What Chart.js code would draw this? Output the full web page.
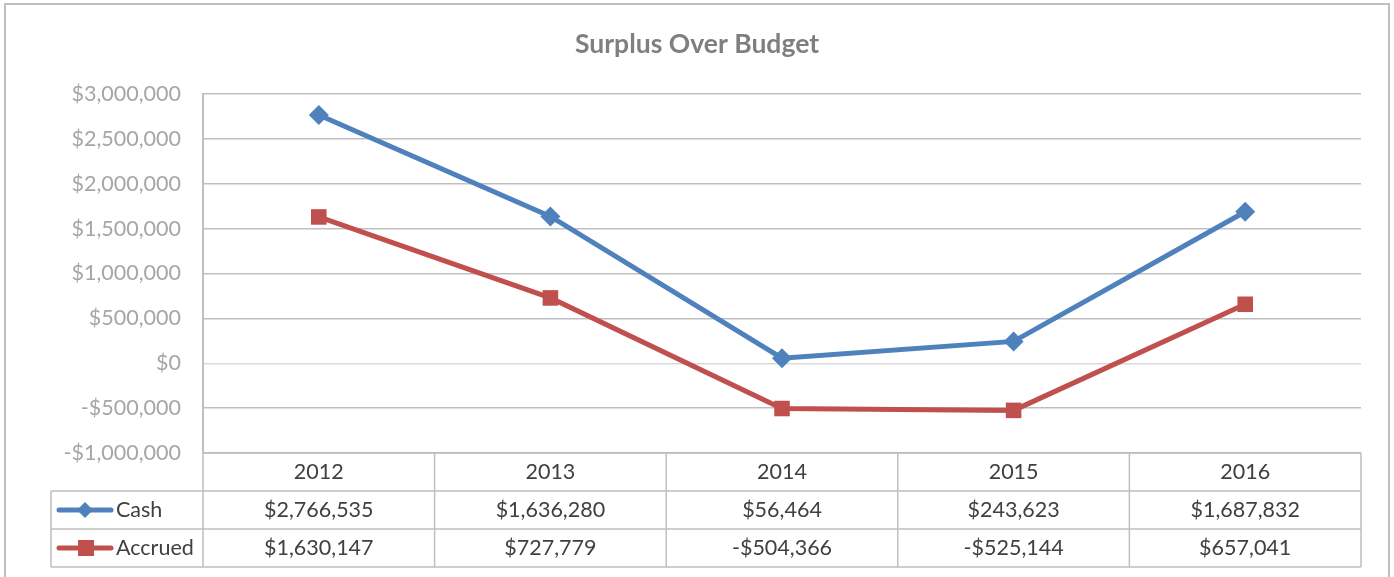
<!DOCTYPE html>
<html>
<head>
<meta charset="utf-8">
<script src="https://cdn.jsdelivr.net/npm/chart.js@4/dist/chart.umd.min.js"></script>
<style>
html,body{margin:0;padding:0;background:#fff;}
#wrap{width:1394px;height:577px;position:relative;}
</style>
</head>
<body>
<div id="wrap"><canvas id="c" width="1394" height="577"></canvas></div>
<script>
const categories = ['2012', '2013', '2014', '2015', '2016'];
const cashValues = [2766535, 1636280, 56464, 243623, 1687832];
const accruedValues = [1630147, 727779, -504366, -525144, 657041];
const seriesNames = ['Cash', 'Accrued'];
const yTicks = [-1000000, -500000, 0, 500000, 1000000, 1500000, 2000000, 2500000, 3000000];
const chartTitle = 'Surplus Over Budget';

const BLUE = '#4F81BD';
const RED = '#C0504D';
const FONT = 'Lato, "Open Sans", sans-serif';

function money(v) {
  const s = '$' + Math.abs(v).toLocaleString('en-US');
  return v < 0 ? '-' + s : s;
}

const tablePlugin = {
  id: 'dataTable',
  afterDraw(chart) {
    const ctx = chart.ctx;
    const xs = chart.scales.x;
    const area = chart.chartArea;
    const n = categories.length;
    const colW = (area.right - area.left) / n;
    const top = area.bottom;
    const rowH = 38;
    const tableLeft = 51;
    ctx.save();
    // outer frame
    ctx.strokeStyle = '#BFBFBF';
    ctx.lineWidth = 2;
    ctx.strokeRect(5, 4, 1384, 620);
    // title
    ctx.fillStyle = '#7F7F7F';
    ctx.font = 'bold 26.5px ' + FONT;
    ctx.textAlign = 'center';
    ctx.textBaseline = 'middle';
    ctx.fillText(chartTitle, 697, 44);
    // table lines
    ctx.strokeStyle = '#BFBFBF';
    ctx.lineWidth = 1.5;
    ctx.beginPath();
    ctx.moveTo(area.left, top); ctx.lineTo(area.right, top);
    for (let r = 1; r <= 3; r++) {
      ctx.moveTo(tableLeft, top + rowH * r); ctx.lineTo(area.right, top + rowH * r);
    }
    ctx.moveTo(tableLeft, top + rowH); ctx.lineTo(tableLeft, top + rowH * 3);
    for (let i = 0; i <= n; i++) {
      const x = area.left + colW * i;
      ctx.moveTo(x, top); ctx.lineTo(x, top + rowH * 3);
    }
    ctx.stroke();
    // text
    ctx.font = '21.5px ' + FONT;
    ctx.fillStyle = '#404040';
    ctx.textAlign = 'center';
    ctx.textBaseline = 'middle';
    categories.forEach((c, i) => {
      const cx = xs.getPixelForValue(i);
      ctx.fillText(c, cx, top + rowH * 0.5);
      ctx.fillText(money(cashValues[i]), cx, top + rowH * 1.5);
      ctx.fillText(money(accruedValues[i]), cx, top + rowH * 2.5);
    });
    // legend keys
    const keys = [
      {name: seriesNames[0], color: BLUE, shape: 'diamond'},
      {name: seriesNames[1], color: RED, shape: 'square'}
    ];
    keys.forEach((k, r) => {
      const cy = top + rowH * (r + 1.5);
      ctx.strokeStyle = k.color;
      ctx.lineWidth = 5;
      ctx.lineCap = 'round';
      ctx.beginPath();
      ctx.moveTo(59, cy); ctx.lineTo(111, cy);
      ctx.stroke();
      ctx.fillStyle = k.color;
      if (k.shape === 'diamond') {
        ctx.beginPath();
        ctx.moveTo(85, cy - 8); ctx.lineTo(93, cy); ctx.lineTo(85, cy + 8); ctx.lineTo(77, cy);
        ctx.closePath(); ctx.fill();
      } else {
        ctx.fillRect(78, cy - 8, 16, 16);
      }
      ctx.fillStyle = '#404040';
      ctx.textAlign = 'left';
      ctx.fillText(k.name, 116, cy);
    });
    ctx.restore();
  }
};

new Chart(document.getElementById('c'), {
  type: 'line',
  data: {
    labels: categories,
    datasets: [
      {
        label: seriesNames[0], data: cashValues,
        borderColor: BLUE, backgroundColor: BLUE, borderWidth: 5,
        pointStyle: 'rectRot', pointRadius: 10, pointHoverRadius: 10,
        pointBackgroundColor: BLUE, pointBorderColor: BLUE, pointBorderWidth: 0,
        tension: 0
      },
      {
        label: seriesNames[1], data: accruedValues,
        borderColor: RED, backgroundColor: RED, borderWidth: 5,
        pointStyle: 'rect', pointRadius: 11, pointHoverRadius: 11,
        pointBackgroundColor: RED, pointBorderColor: RED, pointBorderWidth: 0,
        tension: 0
      }
    ]
  },
  options: {
    responsive: false,
    animation: false,
    events: [],
    layout: {padding: {top: 94, right: 33, bottom: 124, left: 0}},
    plugins: {legend: {display: false}, title: {display: false}, tooltip: {enabled: false}},
    scales: {
      x: {type: 'category', offset: true, display: false},
      y: {
        min: -1000000, max: 3000000,
        afterFit(scale) { scale.width = 203; },
        afterBuildTicks(scale) { scale.ticks = yTicks.map(v => ({value: v})); },
        ticks: {
          padding: 22,
          color: '#A6A6A6',
          font: {family: FONT, size: 21.5},
          callback: v => money(v)
        },
        grid: {
          color: ctx => ctx.tick && ctx.tick.value === 0 ? '#D9D9D9' : '#BFBFBF',
          lineWidth: 1.5,
          drawTicks: false
        },
        border: {display: true, color: '#BFBFBF', width: 2}
      }
    }
  },
  plugins: [tablePlugin]
});
</script>
</body>
</html>
